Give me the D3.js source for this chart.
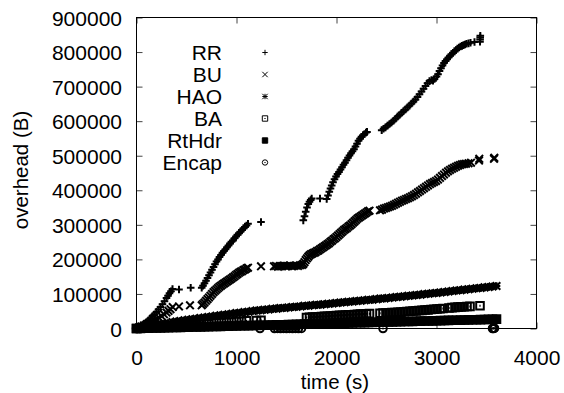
<!DOCTYPE html>
<html>
<head>
<meta charset="utf-8">
<script src="https://cdn.jsdelivr.net/npm/d3@7"></script>
<style>
  body { margin: 0; background: #fff; }
  text { font-family: "Liberation Sans", Arial, sans-serif; fill: #000; }
</style>
</head>
<body>
<div id="chart"></div>
<script>
// time (s), overhead (B) pairs
const rrData = [
  [0,0],[20,3000],[40,6500],[60,10000],[80,14500],[100,19000],[120,24000],[140,30000],[160,36000],[180,41000],
  [200,48000],[220,55000],[240,62000],[260,70000],[280,79000],[300,88000],[315,95000],[330,102000],[345,108000],[360,114000],
  [425,113000],[542,118000],
  [652,118000],[665,124000],[680,131000],[695,138000],[710,146000],[725,154000],[740,162000],[755,170000],[770,178000],
  [785,186000],[800,194000],[815,200000],[830,207000],[845,213000],[860,219000],[875,224000],[890,229000],[905,235000],
  [920,240000],[935,246000],[950,251000],[965,255000],[980,261000],[995,266000],[1010,271000],[1025,276000],[1040,280000],
  [1055,285000],[1070,290000],[1085,294000],[1100,298000],[1115,303000],
  [1245,308000],
  [1668,313000],[1680,325000],[1692,338000],[1705,350000],[1718,360000],[1730,367000],[1742,372000],[1752,376000],
  [1835,376000],
  [1902,375000],[1915,385000],[1928,396000],[1940,405000],[1952,414000],[1965,423000],[1980,432000],[1995,440000],
  [2010,447000],[2025,453000],[2040,460000],[2055,467000],[2070,474000],[2085,480000],[2100,487000],[2115,494000],
  [2130,501000],[2145,507000],[2160,513000],[2175,519000],[2190,527000],[2205,535000],[2220,543000],[2235,549000],
  [2250,555000],[2265,559000],[2280,563000],[2295,567000],[2305,569000],
  [2452,574000],[2470,578000],[2490,582000],[2510,587000],[2530,592000],[2550,596000],[2570,601000],[2590,607000],
  [2610,613000],[2630,618000],[2650,624000],[2670,629000],[2690,634000],[2710,640000],[2730,645000],[2750,651000],
  [2770,657000],[2790,663000],[2810,670000],[2830,678000],[2850,686000],[2870,694000],[2890,702000],[2910,710000],
  [2930,716000],[2950,719000],[2965,717000],[2980,722000],[3000,729000],[3015,736000],[3030,745000],[3045,753000],
  [3060,761000],[3075,768000],[3090,774000],[3105,779000],[3120,784000],[3135,789000],[3150,794000],[3165,798000],
  [3180,802000],[3195,806000],[3210,810000],[3225,813000],[3240,816000],[3255,818000],[3270,820000],[3285,822000],
  [3300,824000],[3320,825000],[3340,827000],[3380,829000],
  [3435,830000],[3436,836000],[3437,842000],[3438,847000]
];
const buData = [
  [0,0],[25,3000],[50,6000],[75,9000],[100,12000],[125,15000],[150,19000],[175,23000],[200,27000],[225,31000],
  [250,36000],[275,41000],[300,46000],[320,51000],[340,56000],[362,62000],
  [425,64000],[535,67000],
  [652,67000],[665,71000],[680,75000],[695,80000],[710,85000],[725,90000],[740,95000],[755,100000],[770,105000],
  [785,109000],[800,113000],[815,117000],[830,121000],[845,124000],[860,127000],[875,130000],[890,133000],[905,136000],
  [920,139000],[935,142000],[950,145000],[965,148000],[980,151000],[995,155000],[1010,158000],[1025,161000],[1040,164000],
  [1055,166000],[1070,169000],[1085,171000],[1100,174000],[1115,176000],
  [1245,180000],
  [1375,180000],[1395,181000],[1415,179000],[1435,181000],[1455,180000],[1475,182000],[1495,180000],[1515,181000],
  [1535,182000],[1555,180000],[1575,181000],[1595,182000],[1615,181000],[1635,183000],[1655,184000],
  [1668,187000],[1680,192000],[1692,198000],[1705,203000],[1718,208000],[1730,212000],[1745,215000],[1760,217000],
  [1775,219000],[1790,221000],[1805,224000],[1820,226000],[1835,229000],[1850,232000],[1865,235000],[1880,238000],
  [1895,241000],[1910,244000],[1925,247000],[1940,251000],[1955,254000],[1970,258000],[1985,261000],[2000,265000],
  [2015,269000],[2030,273000],[2045,277000],[2060,281000],[2075,285000],[2090,288000],[2105,291000],[2120,295000],
  [2135,298000],[2150,302000],[2165,306000],[2180,310000],[2195,314000],[2210,318000],[2225,321000],[2240,324000],
  [2255,327000],[2270,330000],[2285,333000],[2300,336000],[2315,339000],[2330,341000],
  [2435,342000],[2455,344000],[2475,347000],[2495,349000],[2515,351000],[2535,353000],[2555,355000],[2575,358000],
  [2595,361000],[2615,364000],[2635,367000],[2655,370000],[2675,372000],[2695,375000],[2715,377000],[2735,380000],
  [2755,383000],[2775,386000],[2795,390000],[2815,394000],[2835,398000],[2855,402000],[2875,406000],[2895,410000],
  [2915,414000],[2935,418000],[2955,421000],[2975,424000],[2995,427000],[3015,431000],[3035,436000],[3055,441000],
  [3075,446000],[3095,451000],[3115,455000],[3135,459000],[3155,462000],[3175,465000],[3195,468000],[3215,471000],
  [3235,473000],[3255,475000],[3275,476000],[3295,477000],[3320,478000],[3345,480000],
  [3425,486000],[3428,491000],[3575,491000],[3578,494000]
];
const haoData = [
  [0,0],[40,2500],[80,4500],[120,6500],[160,8000],[200,10500],[240,12000],[280,14500],[320,16000],[360,18500],
  [400,20000],[440,22000],[480,23500],[520,25500],[560,27000],[600,28500],[640,30500],[680,31500],[720,33500],[760,35000],
  [800,37000],[840,38000],[880,40000],[920,41000],[960,43000],[1000,44500],[1040,45500],[1080,47500],[1120,48500],[1160,50500],
  [1200,52000],[1240,52500],[1280,54500],[1320,55000],[1360,57000],[1400,57500],[1440,59000],[1480,59500],[1520,61000],[1560,62000],
  [1600,63000],[1640,64000],[1680,65500],[1720,66000],[1760,67500],[1800,68500],[1840,69000],[1880,70500],[1920,71500],[1960,72500],
  [2000,74000],[2040,75000],[2080,76000],[2120,77500],[2160,78000],[2200,79500],[2240,80500],[2280,81500],[2320,83000],[2360,83500],
  [2400,85000],[2440,86500],[2480,87000],[2520,88500],[2560,89500],[2600,91000],[2640,92000],[2680,93000],[2720,94500],[2760,95500],
  [2800,97000],[2840,98000],[2880,99500],[2920,100500],[2960,102000],[3000,103000],[3040,104500],[3080,105500],[3120,107000],[3160,108500],
  [3200,110000],[3240,111000],[3280,112500],[3320,113500],[3360,115000],[3400,116500],[3440,117500],[3480,119000],[3520,120000],[3560,121500],
  [3600,123000]
];
const baData = [
  [0,0],[50,1000],[100,2000],[150,3000],[200,4000],[250,5000],[300,6000],[350,7500],[400,8500],[450,9500],
  [500,10500],[550,11500],[600,12500],[650,13500],[700,14500],[750,15500],[800,16500],[850,17000],[900,18000],[950,19000],
  [1000,20000],[1050,21000],[1100,22000],
  [1200,23000],[1245,24000],
  [1700,32000],[1730,32500],[1760,33000],[1790,33000],[1820,34000],[1850,34500],[1880,35000],[1910,35500],[1940,36000],
  [1970,37000],[2000,37500],[2030,38000],[2060,38500],[2090,39000],[2120,39500],[2150,40000],[2180,40500],[2210,41000],
  [2240,41500],[2270,42000],[2300,42500],[2330,43000],
  [2435,44000],[2465,44500],[2495,45000],[2525,45500],[2555,46000],[2585,46500],[2615,47000],[2645,47500],[2675,48500],
  [2705,49000],[2735,50000],[2765,50500],[2795,51000],[2825,52000],[2855,52500],[2885,53500],[2915,54000],[2945,55000],
  [2975,55500],[3005,56500],[3035,57000],[3065,58000],[3125,59500],[3155,60500],[3185,61000],[3215,62000],
  [3245,62500],[3275,63000],[3305,63500],[3335,64000],[3435,66000]
];
const rtHdrData = [
  [0,0],[40,300],[80,700],[120,900],[160,1300],[200,1500],[240,1900],[280,2100],[320,2500],[360,2700],
  [400,3100],[440,3300],[480,3700],[520,3900],[560,4300],[600,4400],[640,4800],[680,5000],[720,5400],[760,5600],
  [800,6000],[840,6200],[880,6600],[920,6800],[960,7200],[1000,7400],[1040,7800],[1080,8000],[1120,8400],[1160,8600],
  [1200,9000],[1240,9200],[1280,9600],[1320,9800],[1360,10200],[1400,10400],[1440,10800],[1480,11000],[1520,11400],[1560,11600],
  [1600,12000],[1640,12200],[1680,12600],[1720,12800],[1760,13200],[1800,13400],[1840,13800],[1880,14000],[1920,14400],[1960,14600],
  [2000,15000],[2040,15300],[2080,15600],[2120,15900],[2160,16200],[2200,16500],[2240,16800],[2280,17100],[2320,17400],[2360,17600],
  [2400,18000],[2440,18200],[2480,18600],[2520,18800],[2560,19200],[2600,19500],[2640,19800],[2680,20100],[2720,20400],[2760,20700],
  [2800,21000],[2840,21300],[2880,21600],[2920,21900],[2960,22200],[3000,22500],[3040,22800],[3080,23100],[3120,23400],[3160,23700],
  [3200,24000],[3240,24300],[3280,24600],[3320,24900],[3360,25200],[3400,25500],[3440,25800],[3480,26100],[3520,26400],[3560,26700],
  [3600,27000]
];
const encapData = [
  [0,0],[10,300],[20,600],[30,200],[40,800],[50,500],
  [1235,0],[1380,0],[1410,200],[1440,0],[1470,300],[1500,0],[1530,200],[1560,0],[1590,300],[1620,0],[1650,200],
  [2465,0],[3560,0],[3565,500],[3570,1000],[3575,300],[3580,800]
];

const seriesNames = ["RR", "BU", "HAO", "BA", "RtHdr", "Encap"];
const seriesShapes = ["plus", "cross", "star", "boxdot", "box", "circledot"];
const seriesData = [rrData, buData, haoData, baData, rtHdrData, encapData];

const xTicks = [0, 1000, 2000, 3000, 4000];
const yTicks = [0, 100000, 200000, 300000, 400000, 500000, 600000, 700000, 800000, 900000];

const width = 564, height = 393;
const plotLeft = 136.5, plotRight = 536.5, plotTop = 17.5, plotBottom = 328.5;

let svg = d3.select("#chart").append("svg")
  .attr("width", width)
  .attr("height", height);

let x = d3.scaleLinear().domain([0, 4000]).range([plotLeft, plotRight]);
let y = d3.scaleLinear().domain([0, 900000]).range([plotBottom, plotTop]);

// gnuplot style point shapes, s = half size
function shapePath(shape, s) {
  let box = `M${-s},${-s}H${s}V${s}H${-s}Z`;
  let dot = "M-0.6,0H0.6";
  switch (shape) {
    case "plus": return `M${-s},0H${s}M0,${-s}V${s}`;
    case "cross": return `M${-s},${-s}L${s},${s}M${-s},${s}L${s},${-s}`;
    case "star": return `M${-s},0H${s}M0,${-s}V${s}M${-s},${-s}L${s},${s}M${-s},${s}L${s},${-s}`;
    case "boxdot": return box + dot;
    case "box": return box;
    case "circledot": return `M${s},0A${s},${s} 0 1,1 ${-s},0A${s},${s} 0 1,1 ${s},0Z` + dot;
  }
}

// axes with inward ticks on all four sides
let yAxis = svg.append("g")
  .attr("transform", `translate(${plotLeft},0)`)
  .call(d3.axisLeft(y).tickValues(yTicks).tickSize(-6).tickPadding(14.5).tickFormat(d3.format("d")));
let xAxis = svg.append("g")
  .attr("transform", `translate(0,${plotBottom})`)
  .call(d3.axisBottom(x).tickValues(xTicks).tickSize(-6).tickPadding(22).tickFormat(d3.format("d")));
svg.append("g")
  .attr("transform", `translate(${plotRight},0)`)
  .call(d3.axisRight(y).tickValues(yTicks).tickSize(-6).tickFormat(""));
svg.append("g")
  .attr("transform", `translate(0,${plotTop})`)
  .call(d3.axisTop(x).tickValues(xTicks).tickSize(-6).tickFormat(""));

svg.selectAll(".domain").remove();
svg.selectAll(".tick line").attr("stroke", "#444");
svg.selectAll(".tick text").style("font-size", "21px").attr("font-family", null);
yAxis.selectAll(".tick text").attr("dy", "0.36em");

svg.append("rect")
  .attr("x", plotLeft).attr("y", plotTop)
  .attr("width", plotRight - plotLeft).attr("height", plotBottom - plotTop)
  .attr("fill", "none").attr("stroke", "#000").attr("stroke-width", 1);

// axis titles
svg.append("text")
  .attr("x", 335).attr("y", 389)
  .attr("text-anchor", "middle")
  .style("font-size", "20.5px")
  .text("time (s)");
svg.append("text")
  .attr("transform", "translate(28,170) rotate(-90)")
  .attr("text-anchor", "middle")
  .style("font-size", "20.5px")
  .text("overhead (B)");

// points, drawn in series order like gnuplot
let plot = svg.append("g");
seriesData.forEach((data, i) => {
  let shape = seriesShapes[i];
  let filled = shape === "box";
  plot.append("g")
    .selectAll("path")
    .data(data)
    .enter().append("path")
    .attr("transform", d => `translate(${x(d[0])},${y(d[1])})`)
    .attr("d", shapePath(shape, 3.8))
    .attr("fill", filled ? "#000" : "none")
    .attr("stroke", "#000")
    .attr("stroke-width", 2);
});

// legend
let legend = svg.append("g");
seriesNames.forEach((name, i) => {
  let cy = 52.5 + i * 22;
  legend.append("text")
    .attr("x", 222).attr("y", cy)
    .attr("dy", "0.36em")
    .attr("text-anchor", "end")
    .style("font-size", "21px")
    .text(name);
  let shape = seriesShapes[i];
  legend.append("path")
    .attr("transform", `translate(265,${cy})`)
    .attr("d", shapePath(shape, 2.7))
    .attr("fill", shape === "box" ? "#000" : "none")
    .attr("stroke", "#000")
    .attr("stroke-width", 1);
});
</script>
</body>
</html>
